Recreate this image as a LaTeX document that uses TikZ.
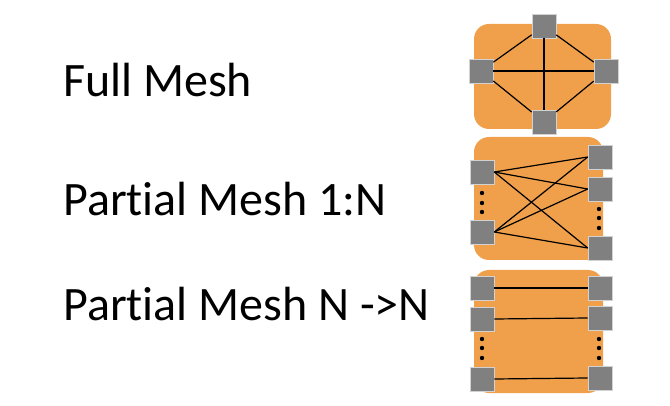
\documentclass[tikz,border=0pt]{standalone}
\usepackage{fontspec}
\setmainfont{Carlito}[Ligatures={NoCommon}]
\usepackage{tikz}
\definecolor{meshorange}{RGB}{240,160,75}
\definecolor{portgray}{RGB}{128,128,128}
\tikzset{
  panel/.style={fill=meshorange, rounded corners=15pt, inner sep=0pt},
  port/.style={fill=portgray, draw=gray!35, line width=0.6pt, minimum width=24pt, minimum height=24pt, inner sep=0pt},
  link/.style={line width=1.2pt, black},
  label/.style={anchor=base west, inner sep=0pt, font=\fontsize{48}{58}\selectfont}
}
\begin{document}
\begin{tikzpicture}[x=1pt,y=-1pt]
    \useasboundingbox (0,0) rectangle (670,406);
    \node[panel, minimum width=137pt, minimum height=105pt] (full) at (542.5,76.5) {};
    \node[panel, minimum width=129pt, minimum height=123pt] (part) at (538.5,198.5) {};
    \node[panel, minimum width=129pt, minimum height=123pt] (pair) at (538.5,331.5) {};
    \node[label] (fulltext) at (63,97) {Full Mesh};
    \node[label] (parttext) at (63,216) {Partial Mesh 1:N};
    \node[label] (pairtext) at (63,320) {Partial Mesh N ->N};
    \node[port] (ft) at (544,26) {};
    \node[port] (fl) at (481,71) {};
    \node[port] (fr) at (606,71) {};
    \node[port] (fb) at (544,122) {};
    \draw[link] (ft) -- (fl);
    \draw[link] (ft) -- (fr);
    \draw[link] (fb) -- (fl);
    \draw[link] (fb) -- (fr);
    \draw[link] (ft) -- (fb);
    \draw[link] (fl) -- (fr);
    \node[port] (a1) at (482,172) {};
    \node[port] (a2) at (482,232) {};
    \node[port] (b1) at (600,157) {};
    \node[port] (b2) at (600,189) {};
    \node[port] (b3) at (600,248) {};
    \foreach \i in {1,2}
      \foreach \j in {1,2,3}
        \draw[link] (a\i.east) -- (b\j.west);
    \foreach \y in {193,203,212}
      \fill (482,\y) circle (2.2pt);
    \foreach \y in {209,218,228}
      \fill (599,\y) circle (2.2pt);
    \node[port] (c1) at (482,288) {};
    \node[port] (c2) at (482,319) {};
    \node[port] (c3) at (482,379) {};
    \node[port] (d1) at (600,288) {};
    \node[port] (d2) at (600,318) {};
    \node[port] (d3) at (600,378) {};
    \foreach \i in {1,2,3}
      \draw[link] (c\i.east) -- (d\i.west);
    \foreach \y in {339,348,358} {
      \fill (482,\y) circle (2.2pt);
      \fill (599,\y) circle (2.2pt);
    }
  \end{tikzpicture}
\end{document}
